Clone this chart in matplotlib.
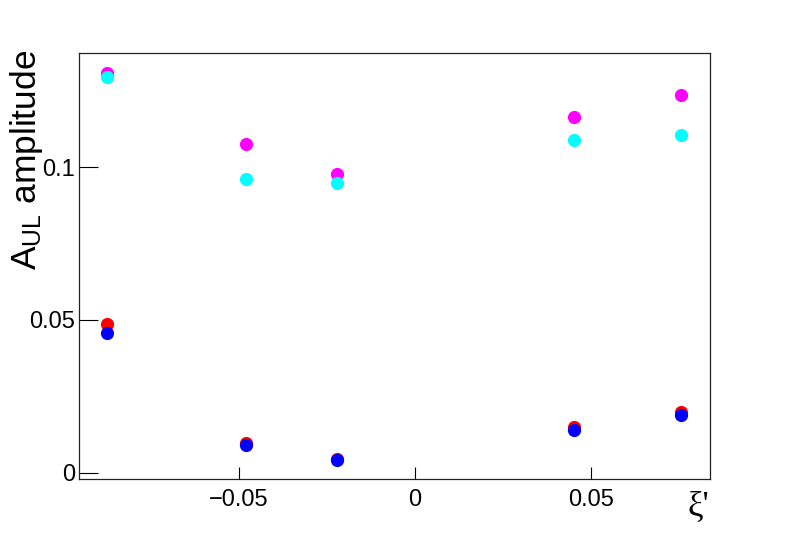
import matplotlib
matplotlib.use("Agg")
import matplotlib.pyplot as plt

plt.rcParams["font.family"] = ["Liberation Sans", "DejaVu Sans"]
plt.rcParams["mathtext.fontset"] = "custom"
plt.rcParams["mathtext.rm"] = "Liberation Sans"
plt.rcParams["mathtext.it"] = "Liberation Sans:italic"

# xi' positions of the bins
xi = [-0.0875, -0.0480, -0.0222, 0.0452, 0.0756]

# A_UL amplitudes, four series
magenta_vals = [0.1307, 0.1075, 0.0977, 0.1163, 0.1235]
cyan_vals = [0.1294, 0.0961, 0.0948, 0.1088, 0.1105]
red_vals = [0.0487, 0.0098, 0.0046, 0.0150, 0.0199]
blue_vals = [0.0458, 0.0092, 0.0042, 0.0141, 0.0190]

series = [
    (magenta_vals, "#ff00ff"),
    (cyan_vals, "#00ffff"),
    (red_vals, "#ff0000"),
    (blue_vals, "#0000ff"),
]

W, H = 789, 533
fig = plt.figure(figsize=(W / 100, H / 100), dpi=100)
ax = fig.add_axes([0.1001, 0.1013, 0.7998, 0.7993])

for vals, color in series:
    ax.plot(xi, vals, "o", color=color, markersize=9.5, markeredgewidth=0, zorder=3)

ax.set_xlim(-0.0955, 0.0838)
ax.set_ylim(-0.002, 0.1373)

ax.set_xticks([-0.05, 0, 0.05])
ax.set_xticklabels(["\u22120.05", "0", "0.05"])
ax.set_yticks([0, 0.05, 0.1])
ax.set_yticklabels(["0", "0.05", "0.1"])

ax.tick_params(axis="x", direction="in", length=8.6, width=0.8, labelsize=17,
               pad=7, top=False)
ax.tick_params(axis="y", direction="in", length=13.7, width=0.8, labelsize=17,
               pad=3, right=False)
ax.minorticks_off()

for sp in ax.spines.values():
    sp.set_linewidth(0.9)
    sp.set_color("#222222")

# axis titles placed in figure pixels, ROOT style
fig.text(8 / W, 1 - 50 / H, r"A$_{\rm UL}$ amplitude", fontsize=25.5,
         rotation=90, ha="left", va="top")
fig.text(709 / W, 1 - 507 / H, "\u03be'", fontsize=25,
         family=["Liberation Serif"], ha="right", va="center")

fig.savefig("out.png", dpi=100)
